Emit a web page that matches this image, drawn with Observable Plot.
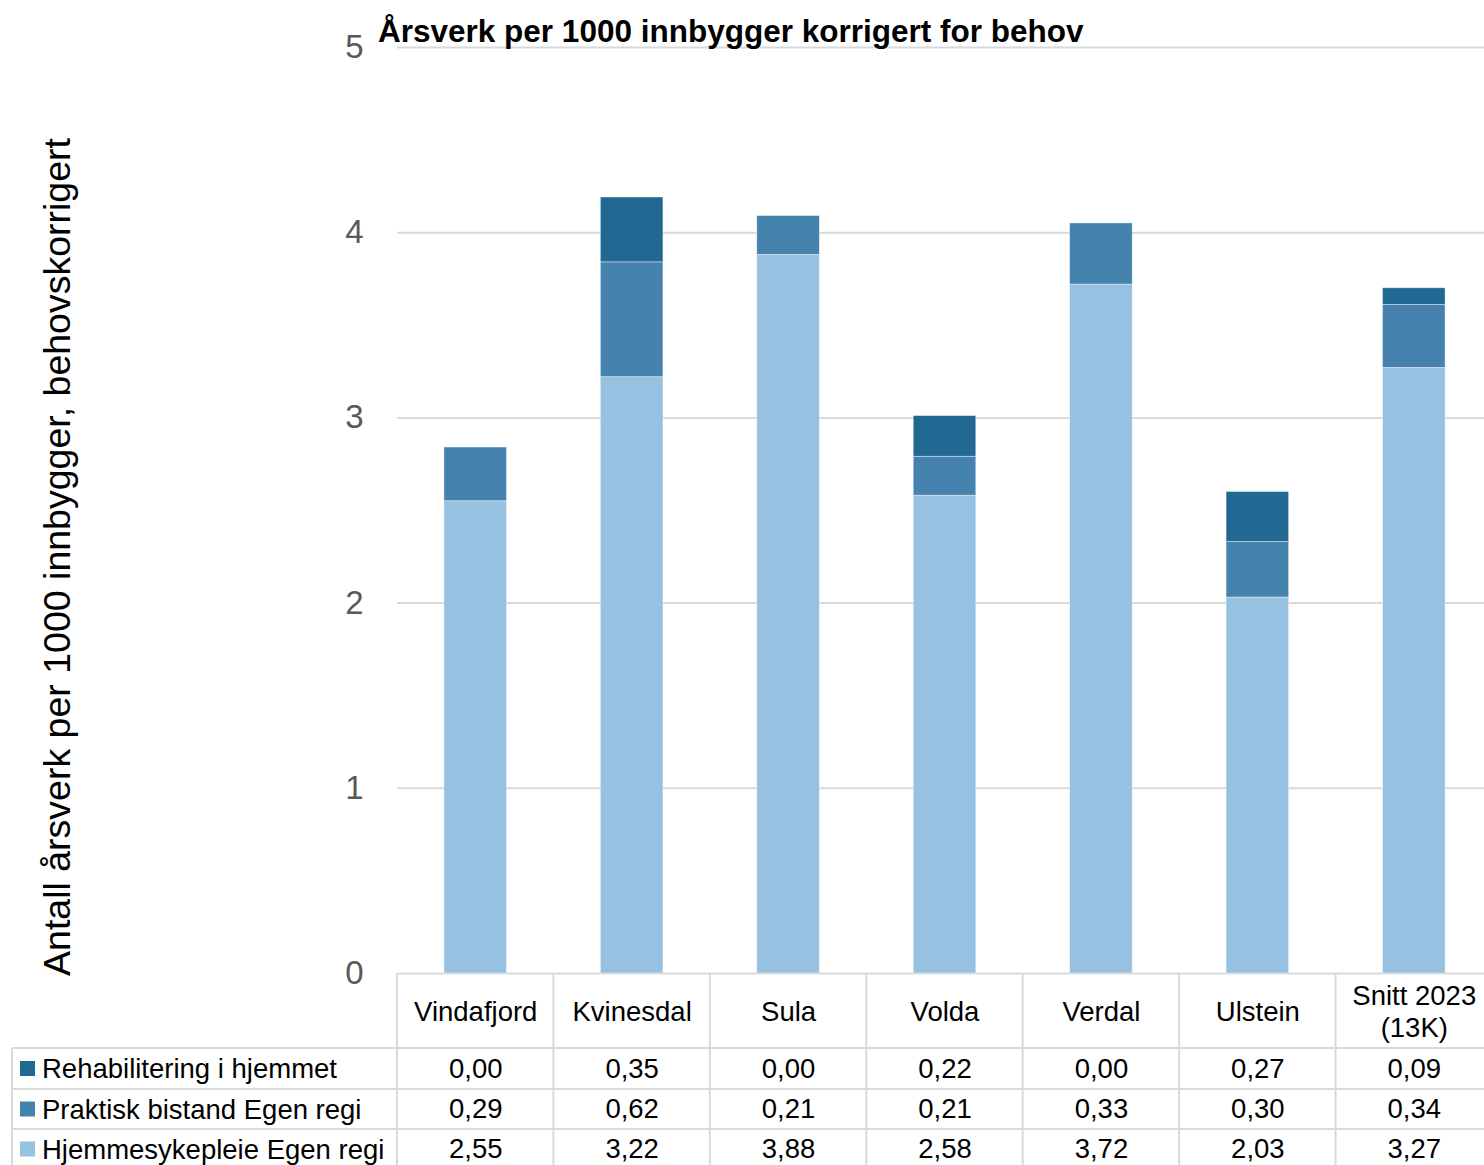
<!DOCTYPE html>
<html><head><meta charset="utf-8">
<script src="https://cdn.jsdelivr.net/npm/d3@7"></script>
<script src="https://cdn.jsdelivr.net/npm/@observablehq/plot@0.6"></script>
<style>html,body{margin:0;padding:0;overflow:hidden;background:#fff} svg{display:block}</style>
</head><body><div id="chart"></div>
<script>
const kommuner = ["Vindafjord","Kvinesdal","Sula","Volda","Verdal","Ulstein","Snitt 2023\n(13K)"];
const serier = ["Rehabilitering i hjemmet","Praktisk bistand Egen regi","Hjemmesykepleie Egen regi"];
const rehabilitering = [0.00,0.35,0.00,0.22,0.00,0.27,0.09];
const praktisk = [0.29,0.62,0.21,0.21,0.33,0.30,0.34];
const hjemmesykepleie = [2.55,3.22,3.88,2.58,3.72,2.03,3.27];
const farger = ["#216892","#4682ae","#97c1e0"];
const yTicks = [0,1,2,3,4,5];
const tittel = "Årsverk per 1000 innbygger korrigert for behov";
const yTittel = "Antall årsverk per 1000 innbygger, behovskorrigert";

const verdier = [rehabilitering, praktisk, hjemmesykepleie];
// stacked bottom to top: hjemmesykepleie, praktisk, rehabilitering
const data = [];
[2,1,0].forEach(si => kommuner.forEach((k,i) => data.push({kommune:k, serie:serier[si], verdi:verdier[si][i]})));
const fmt = v => d3.format(".2f")(v).replace(".", ",");
const FONT = "'Liberation Sans', Arial, sans-serif";
const TFS = 27.5;
const rowDy = [95.5, 136, 176];

const marks = [
  Plot.gridY(yTicks, {stroke:"#d9d9d9", strokeWidth:2, strokeOpacity:1}),
  Plot.barY(data, {x:"kommune", y:"verdi", fill:"serie", z:"serie", order: [serier[2], serier[1], serier[0]], stroke:"white", strokeWidth:0.8, strokeOpacity:0.5}),
  Plot.axisY(yTicks, {tickSize:0, tickPadding:34, fontSize:33, fill:"#595959", label:null, tickFormat: d=>String(d)}),
  Plot.text(kommuner, {x: d=>d, text: d=>d, frameAnchor:"bottom", dy:37, lineAnchor:"middle", lineHeight:1.16, fontSize:TFS, fill:"#000"})
];
serier.forEach((s, si) => {
  marks.push(Plot.text(kommuner, {x: d=>d, text: (d,i)=>fmt(verdier[si][i]), frameAnchor:"bottom", dy:rowDy[si], lineAnchor:"middle", fontSize:TFS, fill:"#000"}));
});

const plot = Plot.plot({
  width:1492, height:1165,
  marginLeft:397, marginRight:0, marginTop:47, marginBottom:192,
  style:{fontFamily:FONT, background:"#fff", overflow:"visible", maxWidth:"none"},
  x:{domain:kommuner, paddingInner:0.6, paddingOuter:0.3, round:false, axis:null},
  y:{domain:[0,5], axis:null},
  color:{domain:serier, range:farger},
  marks
});
plot.style.maxWidth = "none";
plot.style.height = "1165px";
document.getElementById("chart").appendChild(plot);

const svg = d3.select(plot);
const xs = plot.scale("x");
const bw = xs.bandwidth;
const step = bw/(1-0.6);
const centers = kommuner.map(k => xs.apply(k) + bw/2);
const bounds = centers.map(c => c - step/2).concat([centers[centers.length-1] + step/2]);
const g = svg.append("g").attr("stroke","#d9d9d9").attr("stroke-width",2);
const y0 = 973, rows = [1048, 1089, 1129], yEnd = 1170;
bounds.forEach(b => g.append("line").attr("x1",b).attr("x2",b).attr("y1",y0).attr("y2",yEnd));
g.append("line").attr("x1",12).attr("x2",12).attr("y1",rows[0]).attr("y2",yEnd);
rows.forEach(r => g.append("line").attr("x1",12).attr("x2",1500).attr("y1",r).attr("y2",r));

serier.forEach((s, si) => {
  const cy = y0 + rowDy[si];
  svg.append("rect").attr("x",20).attr("y",cy-7.5).attr("width",15).attr("height",15).attr("fill",farger[si]);
  svg.append("text").attr("x",42).attr("y",cy).attr("dy","0.35em").attr("text-anchor","start").attr("font-size",TFS).attr("font-family",FONT).attr("fill","#000").text(s);
});

svg.append("text").attr("x",378).attr("y",42).attr("text-anchor","start").attr("font-size",31.5).attr("font-weight","bold").attr("font-family",FONT).attr("fill","#000").text(tittel);
svg.append("text").attr("transform","translate(70,557) rotate(-90)").attr("text-anchor","middle").attr("font-size",37.5).attr("font-family",FONT).attr("fill","#000").text(yTittel);
</script></body></html>
